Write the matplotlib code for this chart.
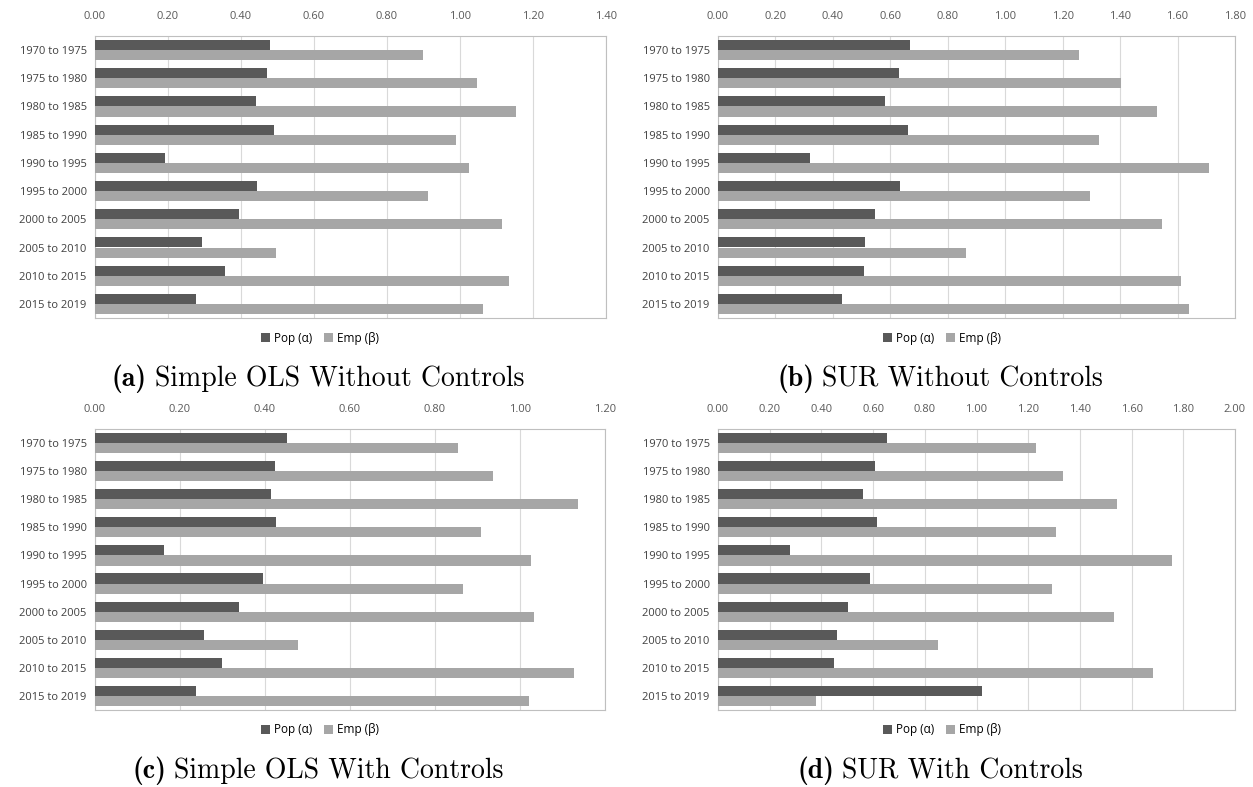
import numpy as np
import matplotlib
matplotlib.use('Agg')
from matplotlib import pyplot as plt

periods = ['1970 to 1975', '1975 to 1980', '1980 to 1985', '1985 to 1990',
           '1990 to 1995', '1995 to 2000', '2000 to 2005', '2005 to 2010',
           '2010 to 2015', '2015 to 2019']

ols_pop = [0.479, 0.471, 0.440, 0.491, 0.192, 0.445, 0.395, 0.293, 0.357, 0.277]
ols_emp = [0.899, 1.046, 1.153, 0.989, 1.024, 0.913, 1.116, 0.495, 1.135, 1.062]

sur_pop = [0.667, 0.630, 0.583, 0.661, 0.322, 0.635, 0.548, 0.513, 0.509, 0.430]
sur_emp = [1.258, 1.402, 1.527, 1.328, 1.710, 1.296, 1.545, 0.865, 1.612, 1.639]

olsc_pop = [0.452, 0.424, 0.413, 0.427, 0.162, 0.396, 0.339, 0.256, 0.300, 0.237]
olsc_emp = [0.853, 0.937, 1.137, 0.908, 1.025, 0.867, 1.033, 0.478, 1.127, 1.021]

surc_pop = [0.653, 0.608, 0.562, 0.616, 0.278, 0.588, 0.501, 0.459, 0.450, 1.021]
surc_emp = [1.229, 1.336, 1.545, 1.308, 1.758, 1.291, 1.530, 0.850, 1.682, 0.380]

xmax = [1.4, 1.8, 1.2, 2.0]
letters = ['a', 'b', 'c', 'd']
captions = ['Simple OLS Without Controls', 'SUR Without Controls',
            'Simple OLS With Controls', 'SUR With Controls']
series = [(ols_pop, ols_emp), (sur_pop, sur_emp),
          (olsc_pop, olsc_emp), (surc_pop, surc_emp)]

W, H = 1253, 787
fig = plt.figure(figsize=(W / 100, H / 100), dpi=100)

dark = '#595959'
light = '#a6a6a6'

# axes boxes in pixels: left, top, right, bottom
boxes = [(95, 36, 606, 318), (718, 36, 1235, 318),
         (95, 429, 605, 710), (718, 429, 1235, 710)]
center_x = [318, 940, 318, 940]

y = np.arange(len(periods))
h = 0.36
pairs = []

for k, (l, t, r, b) in enumerate(boxes):
    ax = fig.add_axes([l / W, 1 - b / H, (r - l) / W, (b - t) / H])
    pop, emp = series[k]
    ax.barh(y - h / 2, pop, height=h, color=dark, label='Pop (α)', zorder=3)
    ax.barh(y + h / 2, emp, height=h, color=light, label='Emp (β)', zorder=3)
    ax.set_ylim(len(periods) - 0.5, -0.5)
    ax.set_xlim(0, xmax[k])
    ticks = np.arange(0, xmax[k] + 0.001, 0.2)
    ax.set_xticks(ticks)
    ax.set_xticklabels(['%.2f' % v for v in ticks], family='Open Sans',
                       fontsize=8, color='#595959')
    ax.xaxis.tick_top()
    ax.set_yticks(y)
    ax.set_yticklabels(periods, family='Open Sans', fontsize=8, color='#404040')
    ax.tick_params(length=0, pad=6)
    ax.tick_params(axis='x', pad=10)
    ax.grid(axis='x', color='#d9d9d9', linewidth=0.8, zorder=0)
    for s in ax.spines.values():
        s.set_color('#bfbfbf')
        s.set_linewidth(0.8)
    ax.legend(loc='center', bbox_to_anchor=((center_x[k] + 2 - l) / (r - l), -20 / (b - t)),
              ncol=2, frameon=False, handlelength=0.8, handleheight=0.8,
              handletextpad=0.3, columnspacing=1.0,
              prop={'family': 'Open Sans', 'size': 8.5})
    cy = 1 - (b + 61) / H
    t1 = fig.text(0, cy, '(%s)' % letters[k], family='cmb10', fontsize=20,
                  ha='left', va='center')
    t2 = fig.text(0, cy, captions[k], family='cmr10', fontsize=20,
                  ha='left', va='center')
    pairs.append((t1, t2, center_x[k]))

# center each caption ("(a)" bold + title) on its panel
fig.canvas.draw()
r = fig.canvas.get_renderer()
gap = 8
for t1, t2, cx in pairs:
    w1 = t1.get_window_extent(r).width
    w2 = t2.get_window_extent(r).width
    x0 = cx - (w1 + gap + w2) / 2
    t1.set_x(x0 / W)
    t2.set_x((x0 + w1 + gap) / W)

fig.savefig('out.png', dpi=100)
